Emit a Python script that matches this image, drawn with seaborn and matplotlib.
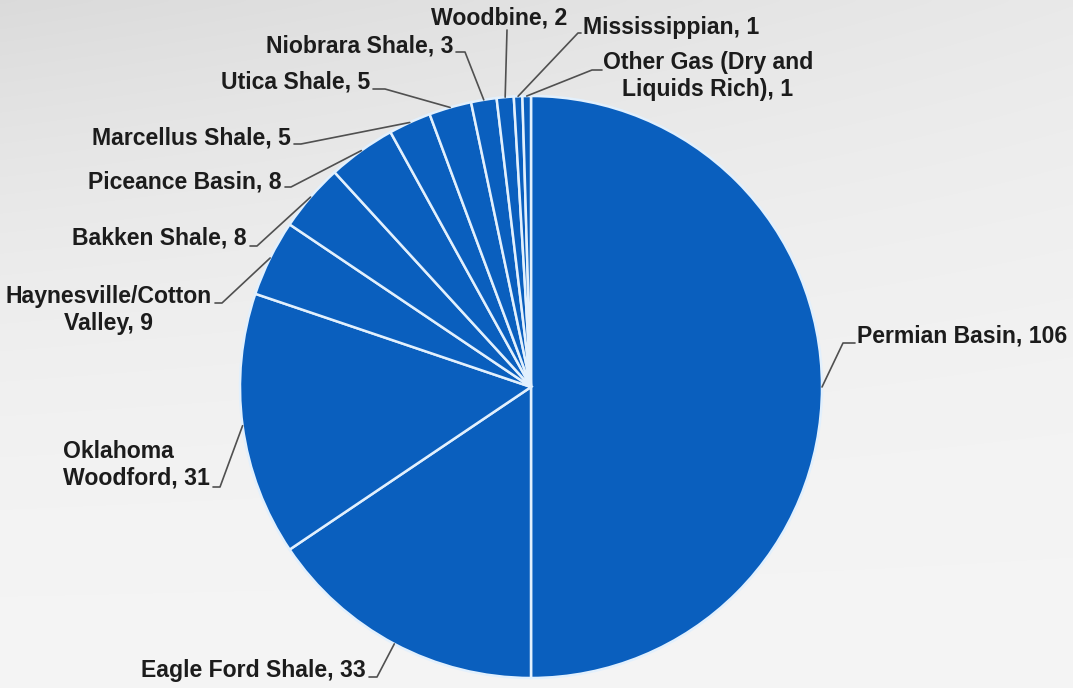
import numpy as np
import matplotlib
matplotlib.use("Agg")
import matplotlib.pyplot as plt
import seaborn as sns

sns.set_theme(style="white")
plt.rcParams["font.family"] = ["Liberation Sans", "DejaVu Sans"]

# Rig counts by play
plays = [
    "Permian Basin", "Eagle Ford Shale", "Oklahoma\nWoodford",
    "Haynesville/Cotton\nValley", "Bakken Shale", "Piceance Basin",
    "Marcellus Shale", "Utica Shale", "Niobrara Shale", "Woodbine",
    "Mississippian", "Other Gas (Dry and\nLiquids Rich)",
]
rigs = [106, 33, 31, 9, 8, 8, 5, 5, 3, 2, 1, 1]

W, H = 1073, 688
fig = plt.figure(figsize=(W / 100, H / 100), dpi=100)
ax = fig.add_axes([0, 0, 1, 1])

# soft grey backdrop, darker toward the upper-left corner
yy, xx = np.mgrid[0:1:200j, 0:1:300j]
shade = 0.958 - 0.10 * yy ** 2.2 * (1.0 - 0.55 * xx)
ax.imshow(np.dstack([shade] * 3), extent=[0, W, 0, H], origin="lower",
          aspect="auto", zorder=0, interpolation="bicubic")

cx, cy, R = 531, H - 387, 291
blue = "#0a5fbe"
wedges, _ = ax.pie(
    rigs, colors=[blue] * len(rigs), startangle=90, counterclock=False,
    center=(cx, cy), radius=R, frame=True,
    wedgeprops=dict(edgecolor="#e2f0fd", linewidth=1.8),
)
ax.set_xlim(0, W)
ax.set_ylim(0, H)
ax.set_aspect("equal")
ax.axis("off")

# label placement in image rows:
# (text x, baseline of last line, alignment, elbow x, elbow y, connector end x)
layout = [
    (857, 343, "left", 843, 343, 855),
    (366, 677, "right", 377, 677, 369),
    (210, 485, "right", 220, 487, 213),
    (212, 330, "right", 222, 303, 215),
    (247, 245, "right", 257, 246, 250),
    (282, 188, "right", 291, 187, 285),
    (291, 145, "right", 301, 144, 294),
    (370, 88, "right", 385, 89, 373),
    (453, 52, "right", 465, 52, 456),
    (499, 25, "center", 507, 30, 507),
    (583, 34, "left", 578, 33, 581),
    (708, 96, "center", 592, 70, 602),
]

line_kw = dict(color="#505050", lw=1.2, zorder=3, solid_capstyle="round")
for w, name, val, (tx, ty, ha, ex, ey, hx) in zip(wedges, plays, rigs, layout):
    mid = np.deg2rad((w.theta1 + w.theta2) / 2)
    px, py = cx + R * np.cos(mid), cy + R * np.sin(mid)
    ax.plot([px, ex, hx], [py, H - ey, H - ey], **line_kw)
    multi = "\n" in name
    align = "left" if name.startswith("Oklahoma") else "center"
    # two-line labels are anchored by their bottom edge, one-liners by baseline
    ax.text(tx, H - ty - (5 if multi else 0), f"{name}, {val}", ha=ha,
            va="bottom" if multi else "baseline",
            fontsize=16.6, fontweight="bold", color="#1c1c1c",
            linespacing=1.22, multialignment=align, zorder=4)

fig.savefig("out.png", dpi=100)
